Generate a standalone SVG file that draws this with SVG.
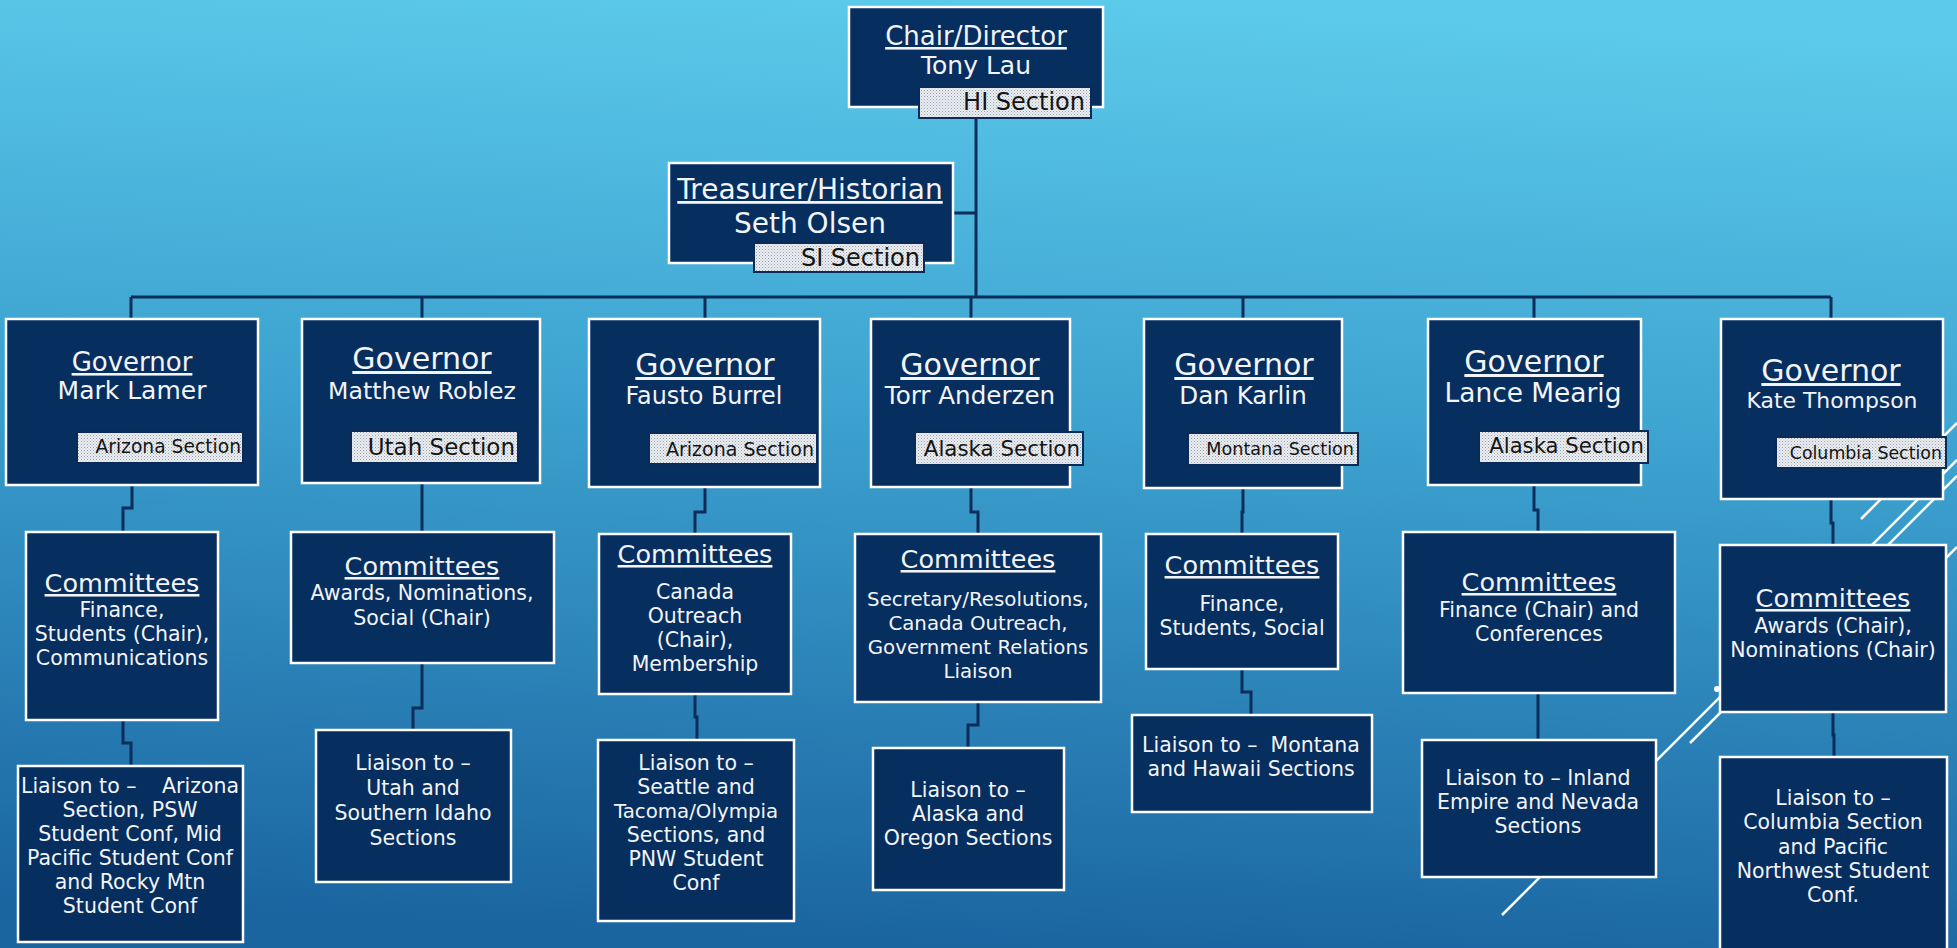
<svg xmlns="http://www.w3.org/2000/svg" width="1957" height="948" viewBox="0 0 1957 948">
<defs>
<linearGradient id="bg" x1="0.55" y1="0" x2="0.45" y2="1">
<stop offset="0" stop-color="#5CCAEA"/>
<stop offset="0.45" stop-color="#3CA1CF"/>
<stop offset="1" stop-color="#1A64A0"/>
</linearGradient>
<pattern id="dots" width="3" height="3" patternUnits="userSpaceOnUse">
<rect width="3" height="3" fill="#EAEDF1"/>
<rect width="1" height="1" fill="#98A1AC"/>
<rect x="1.5" y="1.5" width="1" height="1" fill="#B6BDC6"/>
</pattern>
<style>
.box{fill:#062E5F;stroke:#FFFFFF;stroke-width:2.5}
.lbl{fill:url(#dots);stroke:#0A2B57;stroke-width:2}
.conn{fill:none;stroke:#0A2D5B;stroke-width:3}
.deco{fill:none;stroke:#FFFFFF;stroke-width:2.5}
text{font-family:"DejaVu Sans","Liberation Sans",sans-serif;fill:#F2F4F7;text-anchor:middle}
.u{text-decoration:underline}
.lt{fill:#141414;text-anchor:end}
.b{font-size:20.5px}
.h{font-size:25.5px}
</style>
</defs>
<rect width="1957" height="948" fill="url(#bg)"/>
<g id="decoration">
<path class="deco" d="M1861,519 L1957,423"/>
<path class="deco" d="M1502,915 L1957,460"/>
<path class="deco" d="M1690,743 L1957,476"/>
<path class="deco" d="M1920,584 L1957,547"/>
<circle cx="1717" cy="689" r="3" fill="#FFFFFF"/>
</g>
<g id="connectors">
<path class="conn" d="M976,118 V297 M953,213 H976 M131,297 H1831"/>
<path class="conn" d="M131,297 V319 M422,297 V319 M705,297 V319 M971,297 V319 M1243,297 V319 M1534,297 V319 M1831,297 V319"/>
<path class="conn" d="M132,485 V508 H123 V532"/>
<path class="conn" d="M422,483 V532"/>
<path class="conn" d="M705,487 V512 H695 V534"/>
<path class="conn" d="M971,487 V512 H978 V534"/>
<path class="conn" d="M1243,488 V512 H1242 V534"/>
<path class="conn" d="M1534,485 V510 H1538 V532"/>
<path class="conn" d="M1831,499 V523 H1833 V545"/>
<path class="conn" d="M123,720 V743 H131 V766"/>
<path class="conn" d="M422,663 V708 H413 V730"/>
<path class="conn" d="M695,694 V717 H697 V740"/>
<path class="conn" d="M978,702 V725 H968 V748"/>
<path class="conn" d="M1242,669 V692 H1251 V715"/>
<path class="conn" d="M1538,693 V740"/>
<path class="conn" d="M1833,712 V735 H1834 V757"/>
</g>
<g id="chair">
<rect class="box" x="849" y="7" width="254" height="100"/>
<text class="u" x="976" y="45" font-size="26">Chair/Director</text>
<text x="976" y="74" font-size="25">Tony Lau</text>
<rect class="lbl" x="919" y="87" width="172" height="31"/>
<text class="lt" x="1085" y="110" font-size="24">HI Section</text>
</g>
<g id="treasurer">
<rect class="box" x="669" y="163" width="284" height="100"/>
<text class="u" x="810" y="199" font-size="28">Treasurer/Historian</text>
<text x="810" y="233" font-size="28">Seth Olsen</text>
<rect class="lbl" x="754" y="243" width="170" height="29"/>
<text class="lt" x="920" y="266" font-size="24">SI Section</text>
</g>
<g id="gov1">
<rect class="box" x="6" y="319" width="252" height="166"/>
<text class="u" x="132" y="371" font-size="26">Governor</text>
<text x="132" y="399" font-size="25">Mark Lamer</text>
<rect class="lbl" x="77" y="432" width="166" height="31"/>
<text class="lt" x="241" y="453" font-size="18.7">Arizona Section</text>
</g>
<g id="gov2">
<rect class="box" x="302" y="319" width="238" height="164"/>
<text class="u" x="422" y="369" font-size="30">Governor</text>
<text x="422" y="399" font-size="23.6">Matthew Roblez</text>
<rect class="lbl" x="351" y="431" width="167" height="32"/>
<text class="lt" x="515" y="455" font-size="23">Utah Section</text>
</g>
<g id="gov3">
<rect class="box" x="589" y="319" width="231" height="168"/>
<text class="u" x="705" y="375" font-size="30">Governor</text>
<text x="704" y="404" font-size="23.9">Fausto Burrel</text>
<rect class="lbl" x="649" y="433" width="168" height="31"/>
<text class="lt" x="814" y="456" font-size="19">Arizona Section</text>
</g>
<g id="gov4">
<rect class="box" x="871" y="319" width="199" height="168"/>
<text class="u" x="970" y="375" font-size="30">Governor</text>
<text x="970" y="404" font-size="24.6">Torr Anderzen</text>
<rect class="lbl" x="915" y="432" width="168" height="33"/>
<text class="lt" x="1080" y="456" font-size="21.4">Alaska Section</text>
</g>
<g id="gov5">
<rect class="box" x="1144" y="319" width="198" height="169"/>
<text class="u" x="1244" y="375" font-size="30">Governor</text>
<text x="1243" y="404" font-size="24.6">Dan Karlin</text>
<rect class="lbl" x="1188" y="433" width="170" height="32"/>
<text class="lt" x="1354" y="455" font-size="17.6">Montana Section</text>
</g>
<g id="gov6">
<rect class="box" x="1428" y="319" width="213" height="166"/>
<text class="u" x="1534" y="372" font-size="30">Governor</text>
<text x="1533" y="402" font-size="26.4">Lance Mearig</text>
<rect class="lbl" x="1479" y="431" width="169" height="32"/>
<text class="lt" x="1644" y="453" font-size="21.2">Alaska Section</text>
</g>
<g id="gov7">
<rect class="box" x="1721" y="319" width="222" height="180"/>
<text class="u" x="1831" y="381" font-size="30">Governor</text>
<text x="1832" y="408" font-size="21.9">Kate Thompson</text>
<rect class="lbl" x="1776" y="437" width="170" height="31"/>
<text class="lt" x="1942" y="459" font-size="17.4">Columbia Section</text>
</g>
<g id="com1">
<rect class="box" x="26" y="532" width="192" height="188"/>
<text class="u h" x="122" y="592">Committees</text>
<text class="b" x="122" y="617">Finance,</text>
<text class="b" x="122" y="641">Students (Chair),</text>
<text class="b" x="122" y="665">Communications</text>
</g>
<g id="com2">
<rect class="box" x="291" y="532" width="263" height="131"/>
<text class="u h" x="422" y="575">Committees</text>
<text class="b" x="422" y="600">Awards, Nominations,</text>
<text class="b" x="422" y="625">Social (Chair)</text>
</g>
<g id="com3">
<rect class="box" x="599" y="534" width="192" height="160"/>
<text class="u h" x="695" y="563">Committees</text>
<text class="b" x="695" y="599">Canada</text>
<text class="b" x="695" y="623">Outreach</text>
<text class="b" x="695" y="647">(Chair),</text>
<text class="b" x="695" y="671">Membership</text>
</g>
<g id="com4">
<rect class="box" x="855" y="534" width="246" height="168"/>
<text class="u h" x="978" y="568">Committees</text>
<text x="978" y="606" font-size="19.8">Secretary/Resolutions,</text>
<text x="978" y="630" font-size="19.8">Canada Outreach,</text>
<text x="978" y="654" font-size="19.8">Government Relations</text>
<text x="978" y="678" font-size="19.8">Liaison</text>
</g>
<g id="com5">
<rect class="box" x="1146" y="534" width="192" height="135"/>
<text class="u h" x="1242" y="574">Committees</text>
<text class="b" x="1242" y="611">Finance,</text>
<text class="b" x="1242" y="635">Students, Social</text>
</g>
<g id="com6">
<rect class="box" x="1403" y="532" width="272" height="161"/>
<text class="u h" x="1539" y="591">Committees</text>
<text class="b" x="1539" y="617">Finance (Chair) and</text>
<text class="b" x="1539" y="641">Conferences</text>
</g>
<g id="com7">
<rect class="box" x="1720" y="545" width="226" height="167"/>
<text class="u h" x="1833" y="607">Committees</text>
<text class="b" x="1833" y="633">Awards (Chair),</text>
<text class="b" x="1833" y="657">Nominations (Chair)</text>
</g>
<g id="liaison1">
<rect class="box" x="18" y="766" width="225" height="176"/>
<text class="b" y="793"><tspan x="21" text-anchor="start">Liaison to –</tspan><tspan x="239" text-anchor="end">Arizona</tspan></text>
<text class="b" x="130" y="817">Section, PSW</text>
<text class="b" x="130" y="841">Student Conf, Mid</text>
<text class="b" x="130" y="865">Pacific Student Conf</text>
<text class="b" x="130" y="889">and Rocky Mtn</text>
<text class="b" x="130" y="913">Student Conf</text>
</g>
<g id="liaison2">
<rect class="box" x="316" y="730" width="195" height="152"/>
<text class="b" x="413" y="770">Liaison to –</text>
<text class="b" x="413" y="795">Utah and</text>
<text class="b" x="413" y="820">Southern Idaho</text>
<text class="b" x="413" y="845">Sections</text>
</g>
<g id="liaison3">
<rect class="box" x="598" y="740" width="196" height="181"/>
<text class="b" x="696" y="770">Liaison to –</text>
<text class="b" x="696" y="794">Seattle and</text>
<text x="696" y="818" font-size="19.8">Tacoma/Olympia</text>
<text class="b" x="696" y="842">Sections, and</text>
<text class="b" x="696" y="866">PNW Student</text>
<text class="b" x="696" y="890">Conf</text>
</g>
<g id="liaison4">
<rect class="box" x="873" y="748" width="191" height="142"/>
<text class="b" x="968" y="797">Liaison to –</text>
<text class="b" x="968" y="821">Alaska and</text>
<text class="b" x="968" y="845">Oregon Sections</text>
</g>
<g id="liaison5">
<rect class="box" x="1132" y="715" width="240" height="97"/>
<text class="b" x="1251" y="752" xml:space="preserve">Liaison to –  Montana</text>
<text class="b" x="1251" y="776">and Hawaii Sections</text>
</g>
<g id="liaison6">
<rect class="box" x="1422" y="740" width="234" height="137"/>
<text class="b" x="1538" y="785">Liaison to – Inland</text>
<text class="b" x="1538" y="809">Empire and Nevada</text>
<text class="b" x="1538" y="833">Sections</text>
</g>
<g id="liaison7">
<rect class="box" x="1720" y="757" width="227" height="205"/>
<text class="b" x="1833" y="805">Liaison to –</text>
<text class="b" x="1833" y="829">Columbia Section</text>
<text class="b" x="1833" y="854">and Pacific</text>
<text class="b" x="1833" y="878">Northwest Student</text>
<text class="b" x="1833" y="902">Conf.</text>
</g>
</svg>
